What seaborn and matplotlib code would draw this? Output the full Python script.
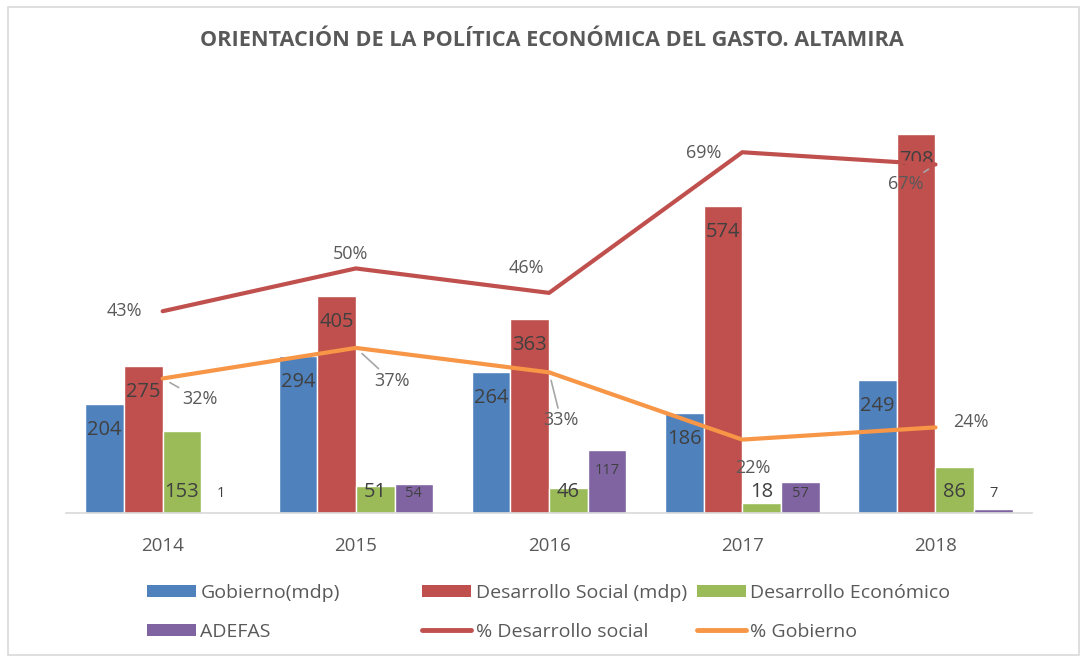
import numpy as np
import pandas as pd
import seaborn as sns
import matplotlib.pyplot as plt
from matplotlib.patches import Patch, Rectangle
from matplotlib.lines import Line2D

# Data
years = ['2014', '2015', '2016', '2017', '2018']
gobierno = [204, 294, 264, 186, 249]
des_social = [275, 405, 363, 574, 708]
des_economico = [153, 51, 46, 18, 86]
adefas = [1, 54, 117, 57, 7]
pct_des_social = [43, 50, 46, 69, 67]
pct_gobierno = [32, 37, 33, 22, 24]

bar_names = ['Gobierno(mdp)', 'Desarrollo Social (mdp)', 'Desarrollo Económico', 'ADEFAS']
bar_colors = ['#4F81BD', '#C0504D', '#9BBB59', '#8064A2']
red_line = '#C0504D'
orange_line = '#F79646'
text_gray = '#595959'

df = pd.DataFrame({
    'year': years * 4,
    'serie': np.repeat(bar_names, len(years)),
    'valor': gobierno + des_social + des_economico + adefas,
})

sns.set_style('white')
plt.rcParams['font.family'] = ['Open Sans', 'DejaVu Sans']

fig = plt.figure(figsize=(10.83, 6.58), dpi=100)
ax = fig.add_axes([0.061, 0.2204, 0.892, 0.6504])

sns.barplot(data=df, x='year', y='valor', hue='serie', hue_order=bar_names,
            palette=bar_colors, width=0.8, ax=ax, legend=False, saturation=1)
ax.set_ylim(0, 800)
ax.set_xlim(-0.5, len(years) - 0.5)
ax.set_yticks([])
ax.set_xlabel('')
ax.set_ylabel('')
ax.tick_params(axis='x', length=0, labelsize=13.5, labelcolor=text_gray, pad=17)
for s in ['top', 'left', 'right']:
    ax.spines[s].set_visible(False)
ax.spines['bottom'].set_color('#D9D9D9')
ax.spines['bottom'].set_linewidth(1.2)

# bar labels
for i, cont in enumerate(ax.containers):
    for bar, v in zip(cont, cont.datavalues):
        x = bar.get_x() + bar.get_width() / 2
        if i < 2:
            ax.annotate(f'{v:.0f}', (x, v), xytext=(0, -26), textcoords='offset pixels',
                        ha='center', va='center', fontsize=14.5, color='#404040')
        elif i == 2:
            ax.annotate(f'{v:.0f}', (x, 0), xytext=(0, 21), textcoords='offset pixels',
                        ha='center', va='center', fontsize=14.5, color='#404040')
        else:
            top_px = v * 0.537
            off = max(top_px - 20, 19)
            ax.annotate(f'{v:.0f}', (x, 0), xytext=(0, off), textcoords='offset pixels',
                        ha='center', va='center', fontsize=10.5, color='#404040')

# percentage lines
ax2 = ax.twinx()
xpos = np.arange(len(years))
sns.lineplot(x=xpos, y=pct_des_social, color=red_line, linewidth=3, ax=ax2)
sns.lineplot(x=xpos, y=pct_gobierno, color=orange_line, linewidth=3, ax=ax2)
ax2.set_ylim(10, 80)
ax2.set_yticks([])
for s in ['top', 'left', 'right', 'bottom']:
    ax2.spines[s].set_visible(False)

ds_offsets = [(-38, 0), (-5, 14), (-23, 25), (-39, -1), (-30, -20)]
ds_leader = [False, False, False, False, True]
gob_offsets = [(37, -21), (36, -33), (12, -48), (11, -28), (35, 5)]
gob_leader = [True, True, True, False, False]

for vals, offs, leads in [(pct_des_social, ds_offsets, ds_leader),
                          (pct_gobierno, gob_offsets, gob_leader)]:
    for xi, v, off, lead in zip(xpos, vals, offs, leads):
        props = dict(arrowstyle='-', color='#A6A6A6', lw=1.2, shrinkA=0, shrinkB=6) if lead else None
        ax2.annotate(f'{v}%', (xi, v), xytext=off, textcoords='offset pixels',
                     ha='center', va='center', fontsize=13, color=text_gray,
                     arrowprops=props)

fig.suptitle('ORIENTACIÓN DE LA POLÍTICA ECONÓMICA DEL GASTO. ALTAMIRA',
             x=0.510, y=0.9377, va='center', fontsize=15.6, fontweight='bold',
             color=text_gray)

# legend in three columns
def bar_handle(c):
    return Patch(facecolor=c, edgecolor='none')

line_h = lambda c: Line2D([], [], color=c, linewidth=3.5)
cols = [
    ([bar_handle(bar_colors[0]), bar_handle(bar_colors[3])], [bar_names[0], bar_names[3]], 0.1357),
    ([bar_handle(bar_colors[1]), line_h(red_line)], [bar_names[1], '% Desarrollo social'], 0.3897),
    ([bar_handle(bar_colors[2]), line_h(orange_line)], [bar_names[2], '% Gobierno'], 0.6436),
]
for handles, labels, xa in cols:
    fig.legend(handles, labels, loc='upper left', bbox_to_anchor=(xa, 0.113),
               frameon=False, fontsize=14, labelcolor=text_gray, handlelength=2.5,
               handleheight=0.62, handletextpad=0.25, labelspacing=1.1,
               borderaxespad=0, borderpad=0)

fig.patches.append(Rectangle((0.007, 0.005), 0.989, 0.985, transform=fig.transFigure,
                             fill=False, edgecolor='#D9D9D9', linewidth=1.2))

fig.savefig('out.png', dpi=100)
